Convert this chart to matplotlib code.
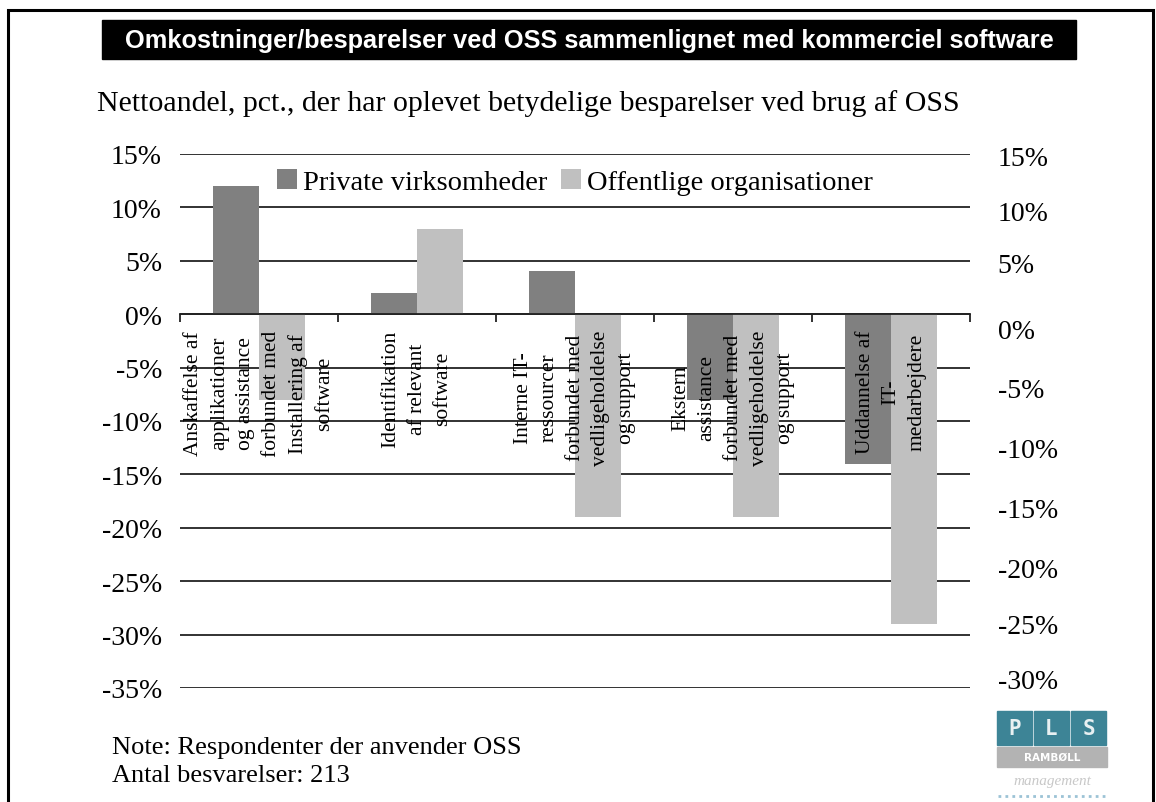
import numpy as np
import matplotlib
matplotlib.use("Agg")
import matplotlib.pyplot as plt
from matplotlib.patches import Rectangle

plt.rcParams['font.family'] = ['Liberation Serif', 'DejaVu Serif']

# data
categories = [
    "Anskaffelse af\napplikationer\nog assistance\nforbundet med\nInstallering af\nsoftware",
    "Identifikation\naf relevant\nsoftware",
    "Interne IT-\nressourcer\nforbundet med\nvedligeholdelse\nog support",
    "Ekstern\nassistance\nforbundet med\nvedligeholdelse\nog support",
    "Uddannelse af\nIT-\nmedarbejdere",
]
private = [12, 2, 4, -8, -14]
offentlige = [-8, 8, -19, -19, -29]
series_names = ["Private virksomheder", "Offentlige organisationer"]
left_ticks = list(range(-35, 16, 5))
# right axis labels sit slightly off the gridlines in the original
right_labels = ["15%", "10%", "5%", "0%", "-5%", "-10%", "-15%", "-20%", "-25%", "-30%"]
right_pos = [14.9, 9.7, 4.8, -1.3, -6.9, -12.5, -18.1, -23.7, -29.0, -34.1]

title = "Omkostninger/besparelser ved OSS sammenlignet med kommerciel software"
subtitle = "Nettoandel, pct., der har oplevet betydelige besparelser ved brug af OSS"
note1 = "Note: Respondenter der anvender OSS"
note2 = "Antal besvarelser: 213"

W, H = 1156, 803


def fx(px):
    return px / W


def fy(py):
    return 1 - py / H


fig = plt.figure(figsize=(W / 100, H / 100), dpi=100)

# outer frame
fig.patches.append(Rectangle((fx(8), fy(830)), fx(1153 - 8), (830 - 11) / H,
                             transform=fig.transFigure, fill=False,
                             edgecolor='black', lw=2.2))
# title bar
fig.patches.append(Rectangle((fx(102), fy(60)), fx(1076 - 102), 39 / H,
                             transform=fig.transFigure, color='black'))
fig.text(fx(589), fy(41), title, color='white', fontsize=18.3, fontweight='bold',
         family='Liberation Sans', ha='center', va='center')
fig.text(fx(97), fy(104), subtitle, fontsize=21.5, ha='left', va='center')

ax = fig.add_axes([fx(180), fy(689), fx(970 - 180), (689 - 155) / H])
x = np.arange(len(categories))
w = 0.288
ax.bar(x - w / 2, private, w, color='#808080', label=series_names[0], zorder=1)
ax.bar(x + w / 2, offentlige, w, color='#c0c0c0', label=series_names[1], zorder=1)

ax.set_xlim(-0.5, len(categories) - 0.5)
ax.set_ylim(-35, 15)
ax.set_yticks(left_ticks, [f"{v}%" for v in left_ticks])
ax.yaxis.grid(True, color='#222222', lw=1.3)
ax.yaxis.set_zorder(0.5)
ax.xaxis.set_zorder(3)
ax.tick_params(axis='y', length=0, pad=13, labelsize=20)

for s in ['left', 'right', 'top']:
    ax.spines[s].set_visible(False)
ax.spines['bottom'].set_position(('data', 0))
ax.spines['bottom'].set_color('#222222')
ax.spines['bottom'].set_linewidth(1.3)

ax.set_xticks(x)
ax.set_xticklabels(categories, rotation=90, ha='center', va='top',
                   multialignment='center', fontsize=15.5, linespacing=1.5)
ax.tick_params(axis='x', which='major', length=0, pad=11)
ax.set_xticks(np.arange(len(categories) + 1) - 0.5, minor=True)
ax.tick_params(axis='x', which='minor', length=6, width=1.3, color='#222222',
               direction='out')

ax2 = ax.twinx()
ax2.set_ylim(ax.get_ylim())
ax2.set_yticks(right_pos, right_labels)
ax2.tick_params(axis='y', length=0, pad=20, labelsize=20)
for s in ax2.spines.values():
    s.set_visible(False)

ax.legend(loc='center', bbox_to_anchor=(0.5, 0.948), ncol=2, frameon=False,
          fontsize=20.5, handlelength=0.7, handleheight=0.7,
          handletextpad=0.2, columnspacing=0.5)

fig.text(fx(112), fy(748), note1, fontsize=19, ha='left', va='center')
fig.text(fx(112), fy(776), note2, fontsize=19, ha='left', va='center')

# PLS Ramboll logo
teal = '#3d8496'
for i, ch in enumerate("PLS"):
    x0 = 997 + i * 37
    fig.patches.append(Rectangle((fx(x0), fy(746)), fx(35), 34 / H,
                                 transform=fig.transFigure, color=teal))
    fig.text(fx(x0 + 17.5), fy(729), ch, color='#e8f0f2', fontsize=15,
             fontweight='bold', family='DejaVu Sans Mono', ha='center', va='center')
fig.patches.append(Rectangle((fx(997), fy(768)), fx(110), 20 / H,
                             transform=fig.transFigure, color='#b3b3b3'))
fig.text(fx(1052), fy(758), "RAMBØLL", color='white', fontsize=7.5,
         fontweight='bold', family='DejaVu Sans', ha='center', va='center')
fig.text(fx(1052), fy(782), "management", color='#c8c8c8', fontsize=11,
         style='italic', ha='center', va='center')
fig.lines.append(plt.Line2D([fx(998), fx(1106)], [fy(797), fy(797)],
                            transform=fig.transFigure, color='#9cc3d6',
                            lw=2, ls=(0, (1, 1.5))))

fig.savefig("out.png", dpi=100)
